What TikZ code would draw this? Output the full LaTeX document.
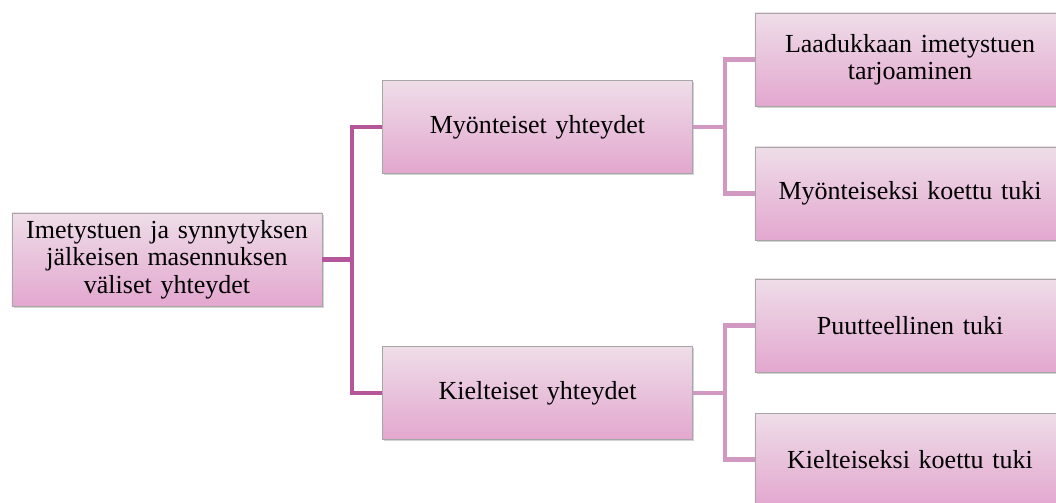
\documentclass[tikz,border=0pt]{standalone}
\usepackage{fontspec}
\setmainfont{Liberation Serif}
\usepackage{tikz}
\usetikzlibrary{shadows}

\definecolor{boxtop}{HTML}{EEDDE8}
\definecolor{boxbot}{HTML}{E3A7CF}
\definecolor{mainline}{HTML}{B5569A}
\definecolor{subline}{HTML}{D198C2}

\tikzset{
  box/.style={rectangle, draw=gray!70, line width=0.5pt,
    top color=boxtop, bottom color=boxbot,
    minimum width=7.75cm, minimum height=2.325cm,
    inner xsep=2pt, align=center, text width=7.55cm,
    font=\fontsize{18.5}{19.4}\selectfont,
    drop shadow={opacity=0.35, shadow xshift=1.2pt, shadow yshift=-1.2pt}},
  mainconn/.style={draw=mainline, line width=3.2pt},
  subconn/.style={draw=subline, line width=3.2pt}
}

\begin{document}
\begin{tikzpicture}[x={(0.025cm,0)}, y={(0,-0.025cm)}]
\useasboundingbox (0,0) rectangle (1056,502);
\clip (0,0) rectangle (1056,502);

% Laatikot
\node[box] (root) at (167,259.5) {Imetystuen ja synnytyksen\\jälkeisen masennuksen\\väliset yhteydet};
\node[box] (pos) at (537.5,127) {Myönteiset yhteydet};
\node[box] (neg) at (537.5,393) {Kielteiset yhteydet};

\node[box] (laatu) at (910,59.5) {Laadukkaan imetystuen\\tarjoaminen};
\node[box] (myon) at (910,193.5) {Myönteiseksi koettu tuki};
\node[box] (puute) at (910,325.5) {Puutteellinen tuki};
\node[box] (kiel) at (910,459.5) {Kielteiseksi koettu tuki};

% Liitoskohdat
\coordinate (ha) at (352,259.5);
\coordinate (hb) at (725,127);
\coordinate (hc) at (725,393);

% Viivat
\draw[mainconn] (root.east) -- (ha);
\draw[mainconn] (pos.west) -| (ha) |- (neg.west);
\draw[subconn] (pos.east) -- (hb);
\draw[subconn] (laatu.west) -| (hb) |- (myon.west);
\draw[subconn] (neg.east) -- (hc);
\draw[subconn] (puute.west) -| (hc) |- (kiel.west);
\end{tikzpicture}
\end{document}
